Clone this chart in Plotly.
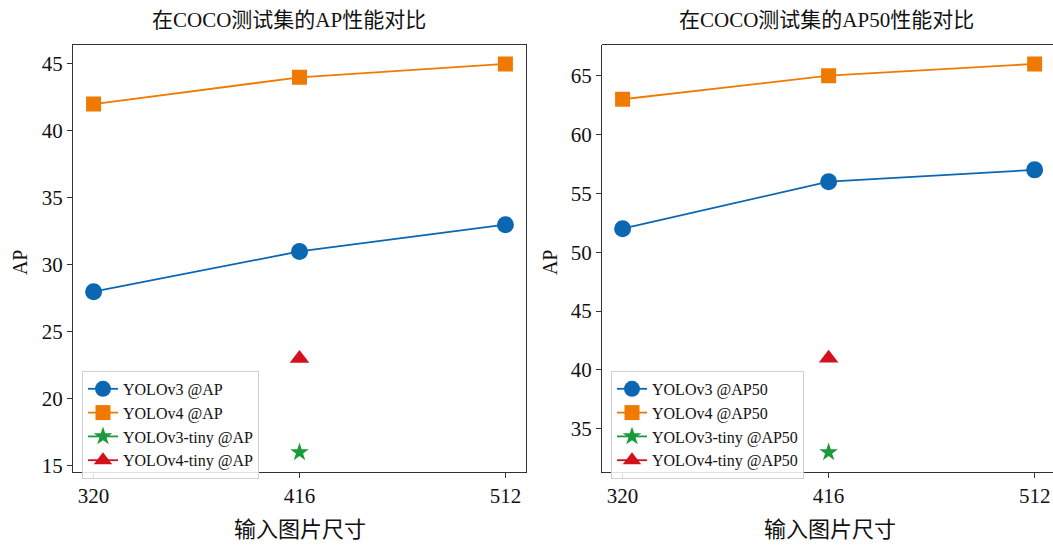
import plotly.graph_objects as go

# Input image sizes (x-axis categories)
sizes = [320, 416, 512]
tiny_size = [416]

# COCO test-dev AP
yolov3_ap = [28, 31, 33]
yolov4_ap = [42, 44, 45]
yolov3_tiny_ap = [16]
yolov4_tiny_ap = [23]

# COCO test-dev AP50
yolov3_ap50 = [52, 56, 57]
yolov4_ap50 = [63, 65, 66]
yolov3_tiny_ap50 = [33]
yolov4_tiny_ap50 = [41]

y_ticks_ap = [15, 20, 25, 30, 35, 40, 45]
y_ticks_ap50 = [35, 40, 45, 50, 55, 60, 65]

BLUE = "#0b67b2"
ORANGE = "#f07a00"
GREEN = "#1b9a3c"
RED = "#d3111c"

FONT = "Liberation Serif, Noto Sans CJK SC, serif"
W, H = 1053, 549


def px(x):
    return x / W


def py(y):
    return 1 - y / H


fig = go.Figure()

styles = [
    ("YOLOv3", BLUE, "circle", 17),
    ("YOLOv4", ORANGE, "square", 15),
    ("YOLOv3-tiny", GREEN, "star", 14),
    ("YOLOv4-tiny", RED, "triangle-up", 17),
]

panels = [
    ("x", "y", "legend", "AP",
     [(sizes, yolov3_ap), (sizes, yolov4_ap), (tiny_size, yolov3_tiny_ap), (tiny_size, yolov4_tiny_ap)]),
    ("x2", "y2", "legend2", "AP50",
     [(sizes, yolov3_ap50), (sizes, yolov4_ap50), (tiny_size, yolov3_tiny_ap50), (tiny_size, yolov4_tiny_ap50)]),
]

for xa, ya, lg, metric, series in panels:
    for (name, color, symbol, msize), (xs, ys) in zip(styles, series):
        fig.add_trace(go.Scatter(
            x=xs, y=ys, mode="lines+markers",
            name=f"{name} @{metric}",
            line=dict(color=color, width=1.8),
            marker=dict(color=color, symbol=symbol, size=msize, line=dict(width=0)),
            xaxis=xa, yaxis=ya, legend=lg,
        ))

axis_common = dict(
    showgrid=False, zeroline=False, showline=True, linecolor="#333333", linewidth=1.2,
    ticks="outside", ticklen=5, tickwidth=1.2, tickcolor="#333333",
    tickfont=dict(family=FONT, size=21, color="#111111"),
)

y_dom = [py(477), py(45)]

legend_style = dict(
    xanchor="left", yanchor="top",
    bgcolor="rgba(255,255,255,0.85)", bordercolor="#d0d0d0", borderwidth=1,
    font=dict(family=FONT, size=16, color="#111111"), tracegroupgap=0,
)

fig.update_layout(
    width=W, height=H,
    margin=dict(l=0, r=0, t=0, b=0),
    paper_bgcolor="white", plot_bgcolor="white",
    font=dict(family=FONT, color="#111111"),
    xaxis=dict(domain=[px(73), px(526)], range=[310.4, 521.6], anchor="y",
               tickvals=sizes, ticktext=[str(s) for s in sizes], mirror=True, **axis_common),
    yaxis=dict(domain=y_dom, range=[14.55, 46.45], tickvals=y_ticks_ap, anchor="x",
               mirror=True, **axis_common),
    xaxis2=dict(domain=[px(602), 1.0], range=[310.4, 310.4 + (W - 602) / 2.146], anchor="y2",
                tickvals=sizes, ticktext=[str(s) for s in sizes], **axis_common),
    yaxis2=dict(domain=y_dom, range=[31.35, 67.65], tickvals=y_ticks_ap50,
                anchor="x2", **axis_common),
    legend=dict(x=px(82), y=py(375), **legend_style),
    legend2=dict(x=px(611), y=py(375), **legend_style),
    showlegend=True,
)

# Top spine of the right panel (right edge runs off the figure)
fig.add_shape(type="line", xref="x2 domain", yref="y2 domain", x0=0, x1=1, y0=1, y1=1,
              line=dict(color="#333333", width=1.2))

# Titles and axis labels
for text, x, y, size, angle in [
    ("在COCO测试集的AP性能对比", 289, 20, 21, 0),
    ("在COCO测试集的AP50性能对比", 826, 20, 21, 0),
    ("输入图片尺寸", 300, 535, 22, 0),
    ("输入图片尺寸", 830, 535, 22, 0),
    ("AP", 20, 265, 20, -90),
    ("AP", 550, 265, 20, -90),
]:
    fig.add_annotation(text=text, x=px(x), y=py(y), xref="paper", yref="paper",
                       showarrow=False, textangle=angle, xanchor="center", yanchor="middle",
                       font=dict(family=FONT, size=size, color="#111111"))

fig.write_html("out.html")
